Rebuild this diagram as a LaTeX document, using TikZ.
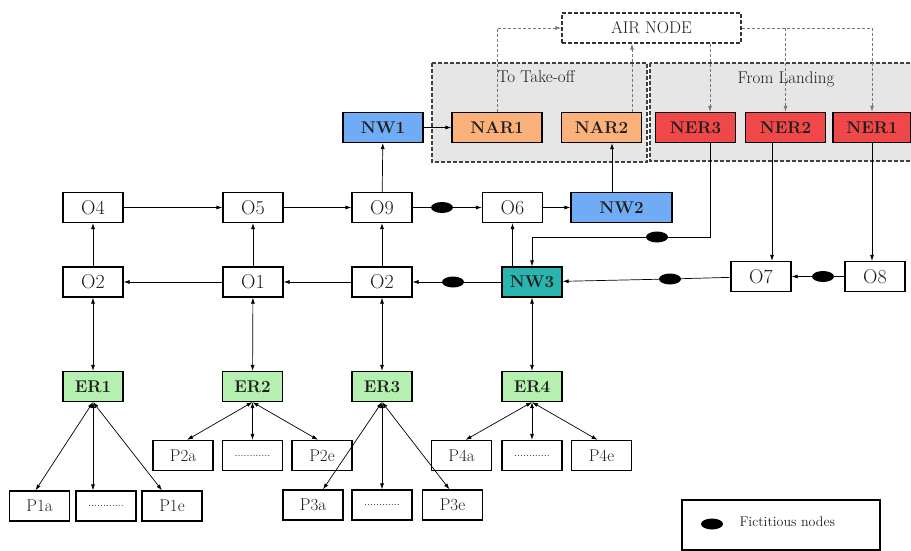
\documentclass[tikz,border=0pt]{standalone}
\usepackage{fontspec}
\usetikzlibrary{arrows.meta,shapes.geometric}
\definecolor{nwblue}{RGB}{112,172,246}
\definecolor{narorange}{RGB}{250,178,122}
\definecolor{nerred}{RGB}{240,72,72}
\definecolor{nwteal}{RGB}{42,180,174}
\definecolor{ergreen}{RGB}{182,240,176}
\definecolor{grpgray}{RGB}{230,230,230}
\definecolor{dotgray}{RGB}{120,120,120}
\definecolor{txt}{RGB}{30,30,30}
\begin{document}
\begin{tikzpicture}[x=1pt,y=-1pt,
 box/.style={draw=black, line width=1.2pt, fill=white, minimum height=30pt, minimum width=60pt, inner sep=0pt, text=txt, font=\fontsize{20}{20}\selectfont},
 cbox/.style={box, font=\fontsize{17}{17}\selectfont\bfseries},
 pbox/.style={box, font=\fontsize{17}{17}\selectfont},
 dbox/.style={box, font=\fontsize{11}{11}\selectfont},
 fict/.style={ellipse, fill=black, minimum width=22pt, minimum height=11pt, inner sep=0pt},
 tip/.style={-{Latex[length=6pt,width=4pt]}},
 arr/.style={tip, line width=0.7pt},
 ln/.style={line width=0.7pt},
 dbl/.style={{Latex[length=6pt,width=4pt]}-{Latex[length=6pt,width=4pt]}, line width=0.7pt},
 dot/.style={dash pattern=on 3pt off 2pt, dotgray, line width=0.9pt},
 dotarr/.style={dot, -{Latex[length=6pt,width=4pt]}},
 grp/.style={draw=black!75, dash pattern=on 4pt off 2pt, line width=1.2pt, fill=grpgray},
 glabel/.style={text=txt, font=\fontsize{17}{17}\selectfont},
]
\useasboundingbox (0,0) rectangle (911,551);
\clip (0,0) rectangle (911,551);
\fill[white] (0,0) rectangle (911,551);

% groups
\draw[grp] (432,63) rectangle (647,162);
\draw[grp] (650,63) rectangle (925,161);
\node[glabel] (gto) at (536,77) {To Take-off};
\node[glabel] (gfrom) at (786,79) {From Landing};

% air node
\node[box, draw=black!80, dash pattern=on 4pt off 2pt, minimum width=179pt, font=\fontsize{17}{17}\selectfont] (air) at (651.5,28) {AIR NODE};

% top row
\node[cbox, fill=nwblue, minimum width=80pt] (nw1) at (383,127.5) {NW1};
\node[cbox, fill=narorange, minimum width=90pt] (nar1) at (497,127.5) {NAR1};
\node[cbox, fill=narorange, minimum width=80pt] (nar2) at (601.5,127.5) {NAR2};
\node[cbox, fill=nerred, minimum width=80pt] (ner3) at (695.5,127.5) {NER3};
\node[cbox, fill=nerred, minimum width=80pt] (ner2) at (785.5,127.5) {NER2};
\node[cbox, fill=nerred, minimum width=78pt] (ner1) at (872,127.5) {NER1};

% O row
\node[box] (o4) at (93,207.5) {O4};
\node[box] (o5) at (253,207.5) {O5};
\node[box] (o9) at (382,207.5) {O9};
\node[box] (o6) at (512.5,207.5) {O6};
\node[cbox, fill=nwblue, minimum width=101pt] (nw2) at (621.5,207.5) {NW2};

% second row
\node[box] (o2a) at (93,282) {O2};
\node[box] (o1) at (253,282) {O1};
\node[box] (o2b) at (382,282) {O2};
\node[cbox, fill=nwteal] (nw3) at (532,282) {NW3};
\node[box] (o7) at (761,276.5) {O7};
\node[box] (o8) at (875,276.5) {O8};

% ER row
\node[cbox, fill=ergreen] (er1) at (93,386.5) {ER1};
\node[cbox, fill=ergreen] (er2) at (252.5,386.5) {ER2};
\node[cbox, fill=ergreen] (er3) at (382,386.5) {ER3};
\node[cbox, fill=ergreen] (er4) at (532,386.5) {ER4};

% P rows
\node[pbox] (p2a) at (183,455.5) {P2a};
\node[dbox] (d2) at (252.5,455.5) {............};
\node[pbox] (p2e) at (322,455.5) {P2e};
\node[pbox] (p4a) at (461.5,455.5) {P4a};
\node[dbox] (d4) at (532,455.5) {............};
\node[pbox] (p4e) at (601.5,455.5) {P4e};
\node[pbox] (p1a) at (39.5,506) {P1a};
\node[dbox] (d1) at (106,506) {............};
\node[pbox] (p1e) at (172,506) {P1e};
\node[pbox] (p3a) at (313,505) {P3a};
\node[dbox] (d3) at (382,505) {............};
\node[pbox] (p3e) at (452.5,505) {P3e};

% fictitious nodes
\node[fict] (f1) at (442,207.5) {};
\node[fict] (f2) at (657,237) {};
\node[fict] (f3) at (453,282) {};
\node[fict] (f4) at (670,279) {};
\node[fict] (f5) at (823,276.5) {};

% O row connectors
\draw[arr] (o4) -- (o5);
\draw[arr] (o5) -- (o9);
\draw[ln] (o9) -- (f1);
\draw[arr] (f1) -- (o6);
\draw[arr] (o6) -- (nw2);

% second row connectors
\draw[arr] (o1) -- (o2a);
\draw[arr] (o2b) -- (o1);
\draw[ln] (nw3) -- (f3);
\draw[arr] (f3) -- (o2b);
\draw[ln] (o7) -- (f4);
\draw[arr] (f4) -- (nw3);
\draw[ln] (o8) -- (f5);
\draw[arr] (f5) -- (o7);

% verticals
\draw[arr] (o2a) -- (o4);
\draw[arr] (o1) -- (o5);
\draw[arr] (o2b) -- (o9);
\draw[arr] (o9) -- (nw1);
\draw[arr] (nw3.north -| o6.south) -- (o6.south);
\draw[arr] (nw1) -- (nar1);
\draw[arr] ([xshift=-9.5pt]nw2.north) -- ([xshift=-9.5pt]nw2.north |- nar2.south);

% landing connectors
\draw[ln] ([xshift=14.5pt]ner3.south) |- (f2);
\draw[arr] (f2) -| (nw3.north);
\draw[arr] ([xshift=-13.5pt]ner2.south) -- ([xshift=-13.5pt]ner2.south |- o7.north);
\draw[arr] (ner1.south) -- (ner1.south |- o8.north);

% air node connectors
\draw[dotarr] (nar1.north) |- (air.west);
\draw[dotarr] ([xshift=30.5pt]nar2.north) -- ([xshift=30.5pt]nar2.north |- air.south);
\draw[dotarr] (air.east) -| (ner1.north);
\draw[dotarr] (ner2.north |- air.east) -- (ner2.north);
\draw[dotarr] ([xshift=14.5pt]ner3.north |- air.south) -- ([xshift=14.5pt]ner3.north);

% ER links
\draw[dbl] (er1) -- (o2a);
\draw[dbl] (er2) -- (o1);
\draw[dbl] (er3) -- (o2b);
\draw[dbl] (er4) -- (nw3);

% fan-outs
\draw[dbl] (er1.south) -- ([xshift=-4pt]p1a.north);
\draw[dbl] (er1.south) -- (er1.south |- d1.north);
\draw[dbl] (er1.south) -- ([xshift=-10pt]p1e.north);
\draw[dbl] (er2.south) -- ([xshift=4pt]p2a.north);
\draw[dbl] (er2.south) -- (d2.north);
\draw[dbl] (er2.south) -- ([xshift=-4pt]p2e.north);
\draw[dbl] (er3.south) -- ([xshift=10pt]p3a.north);
\draw[dbl] (er3.south) -- (d3.north);
\draw[dbl] (er3.south) -- ([xshift=-3pt]p3e.north);
\draw[dbl] (er4.south) -- ([xshift=4pt]p4a.north);
\draw[dbl] (er4.south) -- (d4.north);
\draw[dbl] (er4.south) -- ([xshift=-4pt]p4e.north);

% legend
\node[draw=black, line width=1.2pt, minimum width=198pt, minimum height=50pt, inner sep=0pt] (legend) at (781,525) {};
\node[fict] (lf) at (712,524) {};
\node[anchor=west, text=txt, font=\fontsize{14}{14}\selectfont] (ltext) at (736,522) {Fictitious nodes};
\end{tikzpicture}
\end{document}
